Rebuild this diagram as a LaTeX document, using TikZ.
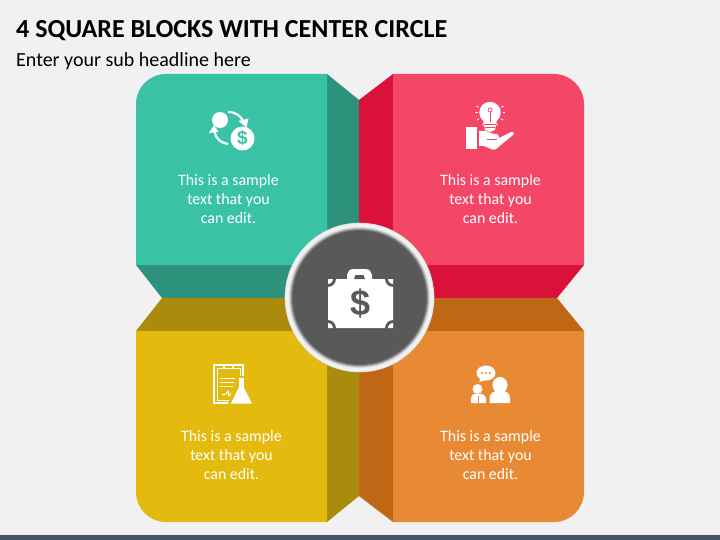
\documentclass[tikz,border=0pt]{standalone}
\usepackage{fontspec}
\usetikzlibrary{calc}
\setmainfont{Carlito}
\newfontfamily\dollarfont{Liberation Sans}
\definecolor{bgc}{HTML}{F1F1F1}
\definecolor{barc}{HTML}{44546A}
\definecolor{tealf}{HTML}{3AC2A6}
\definecolor{teald}{HTML}{2C927C}
\definecolor{redf}{HTML}{F44768}
\definecolor{redd}{HTML}{D9113B}
\definecolor{yelf}{HTML}{E4BA0F}
\definecolor{yeld}{HTML}{AA8B0B}
\definecolor{orgf}{HTML}{E88A33}
\definecolor{orgd}{HTML}{C06716}
\definecolor{hubc}{HTML}{595959}
\tikzset{
  body/.style={text=white,align=center,font=\fontsize{15.9}{19}\selectfont,inner sep=0pt},
  fan/.style={line width=2.2pt,white},
  rule/.style={line width=1pt,white},
}
\begin{document}
\begin{tikzpicture}[x=1pt,y=-1pt]
\useasboundingbox (0,0) rectangle (720,540);
\fill[bgc] (0,0) rectangle (720,540);
\fill[barc] (0,535) rectangle (720,540);
\node[anchor=west,inner sep=0pt,font=\fontsize{26}{30}\selectfont\bfseries] (title) at (16,30.5) {4 SQUARE BLOCKS WITH CENTER CIRCLE};
\node[anchor=west,inner sep=0pt,font=\fontsize{20}{24}\selectfont] (sub) at (16,61) {Enter your sub headline here};
% side panels
\fill[teald] (327,74) -- (359,100) -- (359,298) -- (327,298) -- cycle;
\fill[teald] (136,265) -- (162,298) -- (359,298) -- (327,265) -- cycle;
\fill[redd] (393,74) -- (359,100) -- (359,298) -- (393,298) -- cycle;
\fill[redd] (584,265) -- (557,298) -- (359,298) -- (393,265) -- cycle;
\fill[yeld] (136,331) -- (162,298) -- (359,298) -- (359,331) -- cycle;
\fill[yeld] (327,300) -- (359,300) -- (359,496) -- (327,522) -- cycle;
\fill[orgd] (584,331) -- (557,298) -- (359,298) -- (359,331) -- cycle;
\fill[orgd] (393,300) -- (359,300) -- (359,496) -- (393,522) -- cycle;
% faces
\fill[tealf] (136,265) -- (136,104) .. controls (136,87.4) and (149.4,74) .. (166,74) -- (327,74) -- (327,265) -- cycle;
\fill[redf] (584,265) -- (584,104) .. controls (584,87.4) and (570.6,74) .. (554,74) -- (393,74) -- (393,265) -- cycle;
\fill[yelf] (136,331) -- (136,492) .. controls (136,508.6) and (149.4,522) .. (166,522) -- (327,522) -- (327,331) -- cycle;
\fill[orgf] (584,331) -- (584,492) .. controls (584,508.6) and (570.6,522) .. (554,522) -- (393,522) -- (393,331) -- cycle;
% texts
\node[body] (tl) at (228.5,199) {This is a sample\\text that you\\can edit.};
\node[body] (tr) at (490.5,199) {This is a sample\\text that you\\can edit.};
\node[body] (bl) at (231.5,455) {This is a sample\\text that you\\can edit.};
\node[body] (br) at (490.5,455) {This is a sample\\text that you\\can edit.};
% hub
\fill[black!15] (359.5,297.5) circle[radius=74.8];
\fill[bgc] (359.5,297.5) circle[radius=74.2];
\foreach \r/\c in {70.5/black!14,69.5/black!28,68.5/black!45,67.5/black!60}{\fill[\c] (359.5,297.5) circle[radius=\r];}
\node[circle,fill=hubc,minimum size=133pt,inner sep=0pt] (hub) at (359.5,297.5) {};
% briefcase
\fill[white] (328,279) -- (347,279) -- (347,275) .. controls (349,269) and (351,269) .. (354,269) -- (365,269) .. controls (368,269) and (370,269) .. (372,275) -- (372,279) -- (393,279) -- (393,328) -- (328,328) -- cycle;
\fill[hubc] (354,279) -- (355.5,275) -- (363.5,275) -- (365,279) -- cycle;
\begin{scope}
\clip (328,279) rectangle (393,328);
\foreach \cx/\cy in {328/279,393/279,328/328,393/328}{\draw[hubc,line width=2.8pt] (\cx,\cy) circle[radius=6.5];}
\end{scope}
\node[inner sep=0pt,text=hubc,font=\dollarfont\bfseries\fontsize{36}{36}\selectfont] (dlr) at (360.5,303.5) {\$};
% TL icon
\fill[white] (220,120) circle[radius=8];
\fill[white] (242.5,138.5) circle[radius=12];
\node[inner sep=0pt,text=tealf,font=\dollarfont\bfseries\fontsize{19}{19}\selectfont] (d1) at (242.5,138.5) {\$};
\draw[fan] (228,112) .. controls (236,112) and (241,116) .. (243.5,122);
\fill[white] (238.5,121) -- (248.5,118.5) -- (246.5,127.5) -- cycle;
\draw[fan] (228,144) .. controls (221,143) and (216,139) .. (214.5,132);
\fill[white] (209,133) -- (218.5,132) -- (214,125) -- cycle;
% TR icon
\fill[white] (490,112.5) circle[radius=10.7];
\fill[white] (483,119) -- (497,119) -- (495,130) -- (490,132) -- (485,130) -- cycle;
\foreach \a in {150,120,90,60,30,0,180,-25,205}{\draw[white,line width=0.8pt] ($(490,112.5)+(\a:12.5)$) -- ($(490,112.5)+(\a:15)$);}
\draw[redf,line width=0.7pt] (490,110) circle[radius=2];
\draw[redf,line width=0.7pt] (490,112) -- (490,122);
\draw[redf,line width=0.7pt] (484,124) -- (496,124);
\draw[redf,line width=0.7pt] (485,127) -- (495,127);
\fill[white] (466,127) rectangle (477,149);
\fill[white] (479,131) -- (486,131) .. controls (489,132) and (491,134) .. (497,134) .. controls (499,135) and (499,137) .. (499,138) -- (503,136) -- (511,132) .. controls (514,132) and (515,133) .. (513,135) -- (496,149) .. controls (494,150) and (493,150) .. (491,149) -- (484,146) -- (479,146) -- cycle;
\draw[redf,line width=0.7pt] (487,139) -- (497,139);
% BL icon
\draw[white,line width=1.1pt] (214,365) rectangle (243,403);
\draw[white,line width=0.8pt] (217,368) -- (240,368) -- (240,400) -- (217,400) -- cycle;
\fill[white] (223,364) rectangle (234,369);
\fill[yelf] (225,365.5) rectangle (232,367.5);
\foreach \yy in {378,382,386}{\draw[rule] (220,\yy) -- (238,\yy);}
\draw[rule] (222,395) -- (226,394) -- (228,391) -- (229,396) -- (231,393) -- (235,393);
\fill[yelf] (228,404.5) -- (236,376) -- (246,376) -- (256,406) -- cycle;
\fill[white] (238.5,377.5) rectangle (244,390);
\fill[white] (238.5,388) -- (244,388) -- (252,403.5) -- (231,403.5) -- cycle;
% BR icon
\fill[white] (486,373) ellipse[x radius=9.5,y radius=7.5];
\fill[white] (481,378) -- (479,382) -- (486,380) -- cycle;
\foreach \xx in {482,486,490}{\fill[orgf] (\xx,373) circle[radius=1.2];}
\fill[white] (500,385) ellipse[x radius=7.5,y radius=8];
\fill[white] (489.5,403) -- (489.5,398) .. controls (490,393) and (494,391) .. (497,391) -- (503,391) .. controls (507,391) and (510,394) .. (510,398) -- (510,403) -- cycle;
\fill[white] (477.5,389) circle[radius=5];
\fill[white] (471,403) -- (471,398) .. controls (471,395) and (473,394) .. (475,394) -- (481,394) .. controls (483,394) and (486,395) .. (486,398) -- (486,403) -- cycle;
\draw[orgf,line width=0.7pt] (478,396) -- (478,403);
\end{tikzpicture}
\end{document}
